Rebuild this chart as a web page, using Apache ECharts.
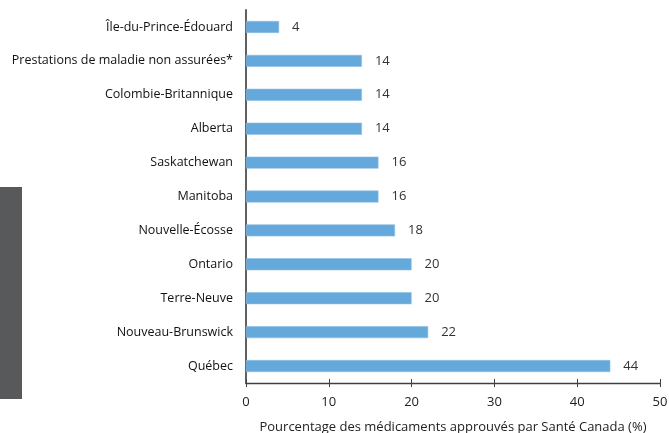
<!DOCTYPE html>
<html><head><meta charset="utf-8">
<script src="https://cdn.jsdelivr.net/npm/echarts@6/dist/echarts.min.js"></script>
<style>html,body{margin:0;padding:0;background:#fff}#c{width:669px;height:433px}</style>
</head><body><div id="c"></div>
<script>
const categories = ["Île-du-Prince-Édouard","Prestations de maladie non assurées*","Colombie-Britannique","Alberta","Saskatchewan","Manitoba","Nouvelle-Écosse","Ontario","Terre-Neuve","Nouveau-Brunswick","Québec"];
const values = [4,14,14,14,16,16,18,20,20,22,44];
const xTicks = [0,10,20,30,40,50];
const axisName = "Pourcentage des médicaments approuvés par Santé Canada (%)";
const FONT = "Open Sans";
const chart = echarts.init(document.getElementById('c'), null, {renderer:'canvas'});
const xMin = xTicks[0], xMax = xTicks[xTicks.length-1];
chart.setOption({
  animation:false,
  textStyle:{fontFamily:FONT},
  graphic:[{type:'rect',shape:{x:0,y:187,width:22,height:212},style:{fill:'#58595b'},silent:true}],
  grid:{left:246,right:9,top:10,bottom:50,containLabel:false,outerBoundsMode:'none'},
  xAxis:[{type:'value',min:xMin,max:xMax,interval:10,
    splitLine:{show:false},
    axisLine:{show:true,lineStyle:{color:'#404040',width:1.3}},
    axisTick:{show:true,length:4,lineStyle:{color:'#404040'}},
    axisLabel:{color:'#222',fontSize:13,margin:13,fontFamily:FONT},
    name:axisName,nameLocation:'middle',nameGap:38,
    nameTextStyle:{color:'#222',fontSize:13,fontFamily:FONT}},
   {type:'value',min:xMin,max:xMax,interval:10,position:'bottom',
    splitLine:{show:false},axisLine:{show:false},axisLabel:{show:false},
    axisTick:{show:true,inside:true,length:4,lineStyle:{color:'#404040'}}}],
  yAxis:{type:'category',data:categories,inverse:true,
    axisLine:{show:true,lineStyle:{color:'#606060',width:2}},
    axisTick:{show:false},
    axisLabel:{color:'#111',fontSize:12.5,margin:13,fontFamily:FONT}},
  series:[{type:'bar',data:values,barWidth:12,xAxisIndex:0,
    itemStyle:{color:'#65a8dc',borderColor:'#8fc0e6',borderWidth:0.6},
    label:{show:true,position:'right',distance:13,color:'#333',fontSize:13,fontFamily:FONT}}]
});
</script></body></html>
